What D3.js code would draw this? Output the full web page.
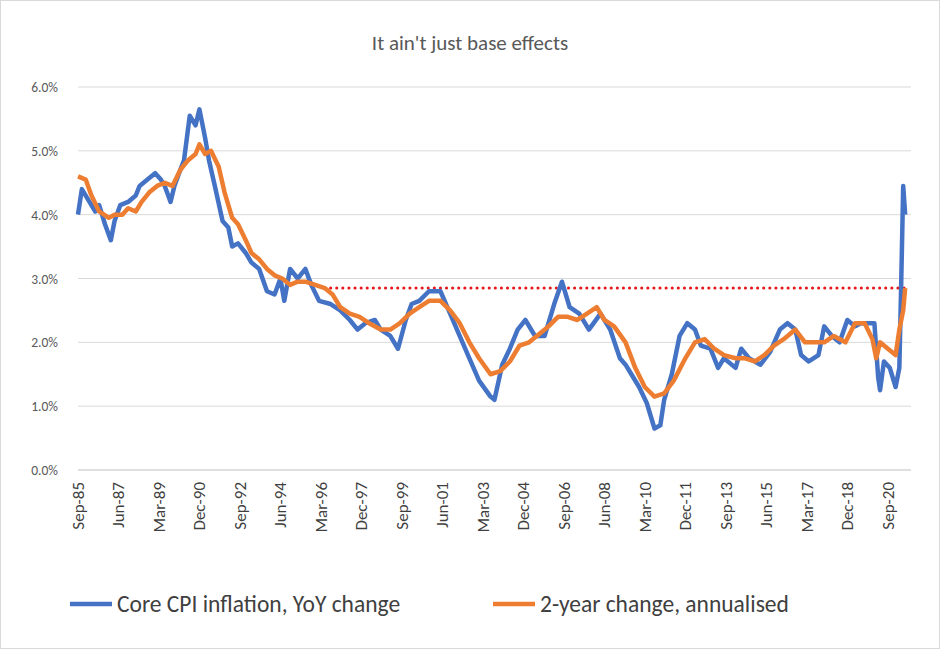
<!DOCTYPE html>
<html><head><meta charset="utf-8">
<script src="https://cdn.jsdelivr.net/npm/d3@7"></script>
<style>body{margin:0;background:#fff;font-family:Calibri,Carlito,Lato,"Open Sans",sans-serif;}</style>
</head><body><svg id="chart" width="940" height="649"></svg>
<script>
const coreDates = ["1985-09","1985-11","1986-03","1986-06","1986-08","1986-11","1987-02","1987-04","1987-07","1987-11","1988-03","1988-05","1988-09","1989-01","1989-04","1989-06","1989-09","1989-11","1990-02","1990-04","1990-07","1990-10","1990-12","1991-03","1991-05","1991-08","1991-12","1992-03","1992-05","1992-08","1992-12","1993-03","1993-07","1993-11","1994-03","1994-06","1994-08","1994-11","1995-03","1995-07","1995-10","1996-02","1996-08","1997-01","1997-06","1997-10","1998-02","1998-07","1998-10","1999-03","1999-07","1999-11","2000-02","2000-06","2000-11","2001-05","2001-10","2002-03","2002-08","2003-01","2003-07","2003-09","2004-01","2004-05","2004-09","2005-01","2005-06","2005-11","2006-04","2006-08","2006-12","2007-05","2007-10","2008-04","2008-09","2009-02","2009-05","2009-08","2009-12","2010-04","2010-08","2010-11","2011-01","2011-05","2011-09","2012-01","2012-05","2012-08","2013-01","2013-05","2013-08","2014-02","2014-05","2014-09","2015-03","2015-08","2016-01","2016-05","2016-09","2016-12","2017-04","2017-09","2017-12","2018-04","2018-08","2018-12","2019-04","2019-07","2019-12","2020-02","2020-04","2020-05","2020-07","2020-10","2021-01","2021-03","2021-04","2021-05","2021-06"];
const coreValues = [4.0,4.4,4.2,4.05,4.15,3.85,3.6,3.9,4.15,4.2,4.3,4.45,4.55,4.65,4.55,4.45,4.2,4.45,4.7,4.85,5.55,5.4,5.65,5.2,4.85,4.45,3.9,3.8,3.5,3.55,3.4,3.25,3.15,2.8,2.75,3.0,2.65,3.15,3.0,3.15,2.9,2.65,2.6,2.5,2.35,2.2,2.3,2.35,2.2,2.1,1.9,2.35,2.6,2.65,2.8,2.8,2.45,2.1,1.75,1.4,1.15,1.1,1.65,1.9,2.2,2.35,2.1,2.1,2.6,2.95,2.55,2.45,2.2,2.45,2.2,1.75,1.65,1.5,1.3,1.05,0.65,0.7,1.1,1.5,2.1,2.3,2.2,1.95,1.9,1.6,1.75,1.6,1.9,1.75,1.65,1.85,2.2,2.3,2.2,1.8,1.7,1.8,2.25,2.1,2.0,2.35,2.25,2.3,2.3,2.3,1.45,1.25,1.7,1.6,1.3,1.6,3.0,4.45,4.0];

const twoYrDates = ["1985-09","1986-01","1986-04","1986-08","1987-01","1987-04","1987-08","1987-11","1988-03","1988-06","1988-10","1989-02","1989-06","1989-10","1990-02","1990-06","1990-10","1990-12","1991-03","1991-06","1991-10","1992-01","1992-05","1992-08","1992-12","1993-03","1993-07","1993-11","1994-03","1994-07","1994-11","1995-03","1995-07","1995-12","1996-05","1996-09","1997-01","1997-06","1997-11","1998-04","1998-10","1999-03","1999-08","2000-01","2000-06","2000-11","2001-05","2001-10","2002-03","2002-08","2003-01","2003-07","2003-12","2004-05","2004-10","2005-03","2005-09","2006-01","2006-06","2006-11","2007-04","2007-09","2008-02","2008-06","2008-11","2009-05","2009-10","2010-03","2010-08","2011-01","2011-06","2011-12","2012-05","2012-10","2013-03","2013-08","2014-02","2014-07","2014-12","2015-05","2015-10","2016-03","2016-09","2017-02","2017-07","2017-12","2018-05","2018-11","2019-04","2019-09","2020-01","2020-03","2020-05","2020-09","2021-01","2021-03","2021-05","2021-06"];
const twoYrValues = [4.6,4.55,4.3,4.05,3.95,4.0,4.0,4.1,4.05,4.2,4.35,4.45,4.5,4.45,4.7,4.85,4.95,5.1,4.95,5.0,4.75,4.35,3.95,3.85,3.6,3.4,3.3,3.15,3.05,3.0,2.9,2.95,2.95,2.9,2.85,2.75,2.55,2.45,2.4,2.3,2.2,2.2,2.3,2.45,2.55,2.65,2.65,2.5,2.3,2.0,1.75,1.5,1.55,1.7,1.95,2.0,2.15,2.25,2.4,2.4,2.35,2.45,2.55,2.35,2.25,2.0,1.6,1.3,1.15,1.2,1.4,1.75,2.0,2.05,1.9,1.8,1.75,1.75,1.7,1.8,1.95,2.05,2.2,2.0,2.0,2.0,2.1,2.0,2.3,2.3,2.05,1.75,2.0,1.9,1.8,2.2,2.5,2.85];

const refLevel = 2.85, refStart = "1996-08", refEnd = "2021-06";
const yTicks = [0,1,2,3,4,5,6];
const xTickLabels = ["Sep-85","Jun-87","Mar-89","Dec-90","Sep-92","Jun-94","Mar-96","Dec-97","Sep-99","Jun-01","Mar-03","Dec-04","Sep-06","Jun-08","Mar-10","Dec-11","Sep-13","Jun-15","Mar-17","Dec-18","Sep-20"];

const parse = d3.timeParse("%Y-%m");
const parseTick = d3.timeParse("%b-%y");
const svg = d3.select("#chart");
svg.append("rect").attr("x",0.5).attr("y",0.5).attr("width",939).attr("height",648).attr("fill","#fff").attr("stroke","#d9d9d9");

const x = d3.scaleTime().domain([parse("1985-09"), parse("2021-09")]).range([78, 911]);
const y = d3.scaleLinear().domain([0,6]).range([470, 87]);

svg.append("g").selectAll("line").data(yTicks.slice(1)).join("line")
  .attr("x1",78).attr("x2",911).attr("y1",d=>y(d)).attr("y2",d=>y(d))
  .attr("stroke","#d9d9d9").attr("stroke-width",1);
svg.append("line").attr("x1",78).attr("x2",911).attr("y1",y(0)).attr("y2",y(0)).attr("stroke","#bfbfbf");

svg.append("g").selectAll("text").data(yTicks).join("text")
  .attr("x",58).attr("y",d=>y(d)+5).attr("text-anchor","end")
  .attr("font-size",13.5).attr("fill","#595959").text(d=>d.toFixed(1)+"%");

svg.append("g").selectAll("text").data(xTickLabels).join("text")
  .attr("transform",d=>`translate(${x(parseTick(d))+6},482) rotate(-90)`)
  .attr("text-anchor","end").attr("font-size",17).attr("fill","#404040").text(d=>d);

svg.append("text").attr("x",470).attr("y",50).attr("text-anchor","middle")
  .attr("font-size",21).attr("fill","#595959").text("It ain't just base effects");

svg.append("line").attr("x1",x(parse(refStart))).attr("x2",x(parse(refEnd)))
  .attr("y1",y(refLevel)).attr("y2",y(refLevel))
  .attr("stroke","#e8161b").attr("stroke-width",3).attr("stroke-dasharray","0.1,6").attr("stroke-linecap","round");

const line = d3.line().x(d=>x(d[0])).y(d=>y(d[1]));
const core = coreDates.map((d,i)=>[parse(d), coreValues[i]]);
const twoYr = twoYrDates.map((d,i)=>[parse(d), twoYrValues[i]]);
svg.append("path").datum(core).attr("d",line).attr("fill","none").attr("stroke","#4472c4").attr("stroke-width",4.5).attr("stroke-linejoin","round");
svg.append("path").datum(twoYr).attr("d",line).attr("fill","none").attr("stroke","#ed7d31").attr("stroke-width",4.5).attr("stroke-linejoin","round");

const legend = [["Core CPI inflation, YoY change","#4472c4",70],["2-year change, annualised","#ed7d31",493]];
legend.forEach(([t,c,lx])=>{
  svg.append("line").attr("x1",lx).attr("x2",lx+42).attr("y1",604).attr("y2",604).attr("stroke",c).attr("stroke-width",4.5);
  svg.append("text").attr("x",lx+47).attr("y",612).attr("font-size",23.5).attr("fill","#404040").text(t);
});
</script></body></html>
